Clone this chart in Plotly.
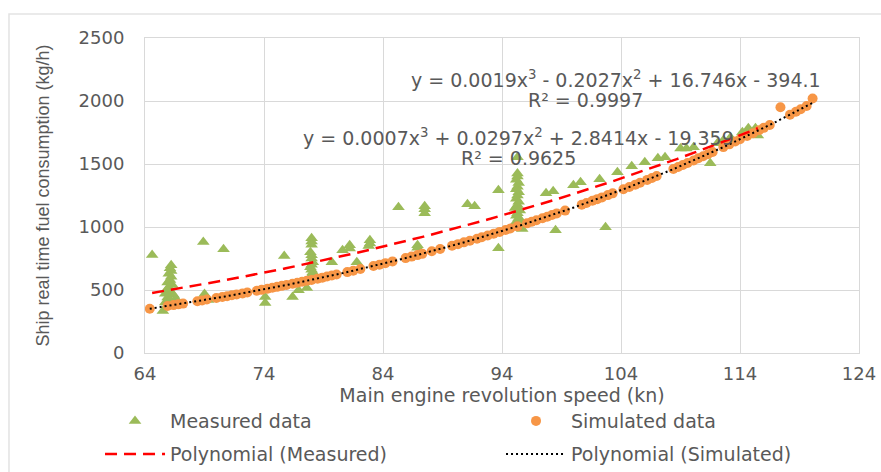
import numpy as np
import plotly.graph_objects as go

# Measured data (main engine speed vs. real-time fuel consumption)
measured_x = [
    64.6, 65.5,
    66.2, 66.1, 66.2, 66.0, 66.2, 66.1, 65.9, 66.3, 66.0, 65.8, 66.2, 66.4, 65.9, 66.1,
    65.7, 66.6, 65.7, 66.5,
    68.9, 70.6, 69.0, 69.3, 69.1,
    74.1, 74.1, 75.7, 76.4, 76.9, 77.6,
    78.0, 78.0, 78.0, 77.9, 78.0, 78.0, 78.1, 78.0, 77.9, 78.0, 78.1, 78.0, 77.9,
    79.7, 80.6, 81.2, 81.2, 81.8, 82.9, 82.9, 82.8,
    85.3, 86.9, 86.9, 87.5, 87.5, 87.5,
    91.1, 91.7, 93.7, 93.7,
    95.3, 95.3, 95.2, 95.4, 95.3, 95.2, 95.4, 95.3, 95.2, 95.4, 95.3, 95.1, 95.5, 95.3,
    95.2, 95.4, 95.6, 95.1, 95.5, 95.3, 95.7, 95.3,
    97.7, 98.3, 98.5, 100.0, 100.6, 102.2, 102.7, 103.7, 104.9, 106.0,
    107.1, 107.7, 109.0, 109.5, 110.1, 111.5, 112.1, 112.6, 113.2,
    114.2, 114.7, 115.3, 115.5,
]
measured_y = [
    777, 333,
    697, 672, 650, 628, 605, 580, 560, 540, 520, 500, 480, 460, 440, 420,
    470, 430, 400, 390,
    880, 824, 468, 420, 445,
    444, 396, 769, 444, 499, 515,
    911, 885, 860, 800, 775, 750, 720, 700, 680, 660, 640, 620, 600,
    721, 816, 856, 830, 721, 895, 870, 850,
    1157, 856, 835, 1165, 1140, 1110,
    1181, 1165, 1292, 832,
    1425, 1400, 1375, 1350, 1320, 1300, 1275, 1250, 1225, 1200, 1175, 1150, 1130, 1110,
    1090, 1070, 1050, 1030, 1015, 1000, 985, 1553,
    1268, 1284, 975, 1331, 1355, 1379, 998, 1434, 1482, 1513,
    1545, 1553, 1624, 1624, 1632, 1506, 1664, 1688, 1711,
    1751, 1783, 1783, 1727,
]

# Simulated data
simulated_x = [
    64.4, 65.9, 66.4, 66.8, 67.2, 68.4, 68.8, 69.2,
    70.0, 70.5, 70.9, 71.3, 71.7, 72.2, 72.6,
    73.4, 73.8, 74.3, 74.7, 75.1, 75.5, 75.9, 76.4, 76.8, 77.2, 77.6, 78.0, 78.5, 78.9,
    79.3, 79.7, 80.1, 81.0, 81.5, 82.1, 83.2, 83.7, 84.2, 84.8,
    85.9, 86.4, 86.9, 87.3, 88.1, 88.8,
    89.8, 90.3, 90.8, 91.3, 91.9, 92.3, 92.8, 93.3, 93.8, 94.3, 94.7, 95.3,
    96.1, 96.5, 96.9, 97.4, 97.8, 98.2, 98.6, 99.3,
    100.7, 101.1, 101.6, 102.0, 102.4, 102.9, 103.3,
    104.2, 104.7, 105.2, 105.6, 106.2, 106.6, 107.0,
    108.4, 108.8, 109.2, 109.6, 110.1, 110.5, 110.9, 111.3, 111.7,
    112.6, 113.1, 113.6, 114.0, 114.6, 115.1, 115.6, 116.0, 116.5,
    117.4, 118.2, 118.7, 119.1, 119.6, 120.1,
]
simulated_y = [
    351, 373, 380, 386, 392, 411, 417, 424,
    437, 445, 451, 458, 465, 473, 480,
    494, 501, 510, 518, 525, 533, 540, 549, 557, 565, 573, 580, 590, 598,
    607, 615, 623, 642, 653, 666, 690, 701, 713, 727,
    753, 765, 777, 787, 807, 825,
    851, 864, 878, 891, 907, 919, 933, 947, 961, 976, 988, 1005,
    1029, 1042, 1054, 1070, 1082, 1095, 1108, 1130,
    1177, 1191, 1208, 1221, 1235, 1253, 1267,
    1299, 1317, 1336, 1351, 1374, 1389, 1405,
    1460, 1476, 1492, 1508, 1528, 1545, 1562, 1578, 1595,
    1634, 1656, 1678, 1696, 1723, 1745, 1768, 1787, 1810,
    1950, 1891, 1915, 1935, 1960, 2020,
]

# Cubic trendline coefficients (highest power first) and R-squared values
measured_coef = [0.0007, 0.0297, 2.8414, -19.359]
measured_r2 = 0.9625
simulated_coef = [0.0019, -0.2027, 16.746, -394.1]
simulated_r2 = 0.9997

x_ticks = [64, 74, 84, 94, 104, 114, 124]
y_ticks = [0, 500, 1000, 1500, 2000, 2500]

GREY_TEXT = "#595959"
GRID = "#d9d9d9"
FONT = "DejaVu Sans"


def equation(coef):
    c3, c2, c1, c0 = coef
    def term(v, first=False):
        if first:
            return f"{v:g}"
        return (" + " if v >= 0 else " - ") + f"{abs(v):g}"
    return ("y = " + term(c3, True) + "x<sup>3</sup>" + term(c2) + "x<sup>2</sup>"
            + term(c1) + "x" + term(c0))


fit_mx = np.linspace(min(measured_x), max(measured_x), 300)
fit_my = np.polyval(measured_coef, fit_mx)
fit_sx = np.linspace(min(simulated_x), max(simulated_x), 300)
fit_sy = np.polyval(simulated_coef, fit_sx)

fig = go.Figure()
fig.add_trace(go.Scatter(
    x=measured_x, y=measured_y, mode="markers", name="Measured data",
    marker=dict(symbol="triangle-up", size=11, color="#9BBB59"),
    legend="legend",
))
fig.add_trace(go.Scatter(
    x=simulated_x, y=simulated_y, mode="markers", name="Simulated data",
    marker=dict(symbol="circle", size=10, color="#F79646"),
    legend="legend",
))
fig.add_trace(go.Scatter(
    x=fit_mx, y=fit_my, mode="lines", name="Polynomial (Measured)",
    line=dict(color="#FF0000", width=2.5, dash="12px,7px"),
    legend="legend2",
))
fig.add_trace(go.Scatter(
    x=fit_sx, y=fit_sy, mode="lines", name="Polynomial (Simulated)",
    line=dict(color="#000000", width=2, dash="2px,3px"),
    legend="legend2",
))

ann_font = dict(family=FONT, size=19, color=GREY_TEXT)
annotations = [
    dict(x=103.6, y=2175, text=equation(simulated_coef)),
    dict(x=101.0, y=2005, text=f"R² = {simulated_r2}"),
    dict(x=95.35, y=1712, text=equation(measured_coef)),
    dict(x=95.4, y=1545, text=f"R² = {measured_r2}"),
]
for a in annotations:
    a.update(xref="x", yref="y", showarrow=False, font=ann_font,
             xanchor="center", yanchor="middle")

legend_common = dict(
    orientation="h", xanchor="left", yanchor="middle", x=-0.063,
    font=dict(family=FONT, size=19, color=GREY_TEXT),
    itemwidth=60, entrywidth=326, bgcolor="rgba(0,0,0,0)",
)

fig.update_layout(
    width=881, height=472,
    margin=dict(l=145, r=22, t=38, b=119, autoexpand=False),
    paper_bgcolor="white", plot_bgcolor="white",
    font=dict(family=FONT, color=GREY_TEXT),
    legend=dict(legend_common, y=-0.216),
    legend2=dict(legend_common, y=-0.321),
    annotations=annotations,
    shapes=[dict(type="rect", xref="paper", yref="paper",
                 x0=-0.1905, x1=1.2, y0=-0.6, y1=1.0762,
                 line=dict(color="#e3e3e3", width=1.5), layer="below")],
)
fig.update_xaxes(
    range=[64, 124], tickmode="array", tickvals=x_ticks,
    showgrid=True, gridcolor=GRID, gridwidth=1,
    showline=True, linecolor=GRID, linewidth=1, mirror=True, zeroline=False,
    ticks="", ticklabelstandoff=4,
    tickfont=dict(family=FONT, size=18, color=GREY_TEXT),
    title=dict(text="Main engine revolution speed (kn)", standoff=5,
               font=dict(family=FONT, size=19, color=GREY_TEXT)),
)
fig.update_yaxes(
    range=[0, 2500], tickmode="array", tickvals=y_ticks,
    showgrid=True, gridcolor=GRID, gridwidth=1,
    showline=True, linecolor=GRID, linewidth=1, mirror=True, zeroline=False,
    ticks="", ticklabelstandoff=16,
    tickfont=dict(family=FONT, size=18, color=GREY_TEXT),
    title=dict(text="Ship real time fuel consumption (kg/h)", standoff=24,
               font=dict(family="Liberation Sans", size=18, color=GREY_TEXT)),
)

fig.write_html("out.html")
